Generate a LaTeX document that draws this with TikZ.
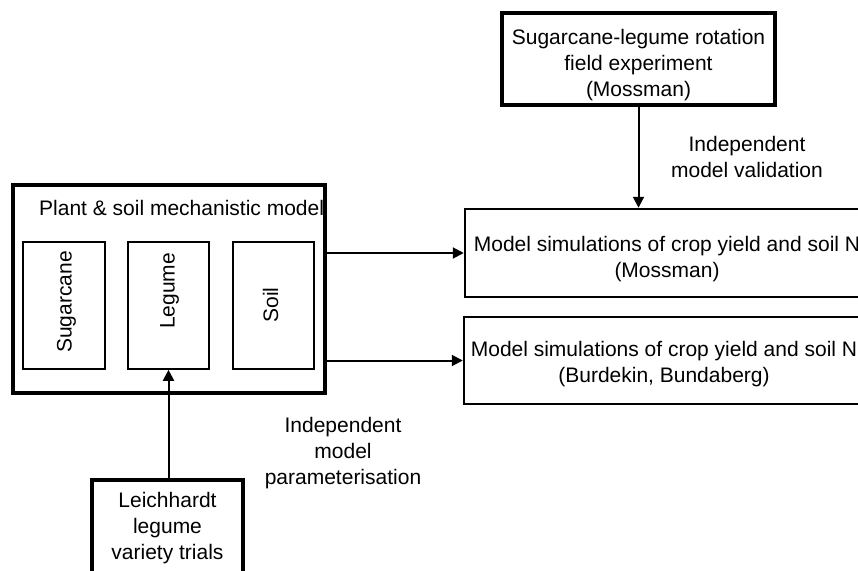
\documentclass[tikz,border=0pt]{standalone}
\usepackage{fontspec}
\setmainfont{Liberation Sans}
\usetikzlibrary{arrows.meta}
\tikzset{
  txt/.style={inner sep=0pt, align=center, font={\fontsize{21}{26}\selectfont}},
  thickbox/.style={draw, line width=3.5pt, rectangle, inner sep=0pt},
  midbox/.style={draw, line width=2.5pt, rectangle, inner sep=0pt},
  thinbox/.style={draw, line width=1.6pt, rectangle, inner sep=0pt},
  conn/.style={line width=2pt, -{Triangle[length=11pt,width=11pt]}},
}
\begin{document}
\begin{tikzpicture}[x=1pt,y=-1pt]
\useasboundingbox[fill=white] (0,0) rectangle (858,570);
% title of model box (drawn first so the border covers its end)
\node[txt, anchor=base west] (title) at (39,215) {Plant \& soil mechanistic model};
\node[thickbox, minimum width=312pt, minimum height=208pt] (main) at (169,289) {};
% inner boxes
\node[thinbox, minimum width=82pt, minimum height=127pt] (sug) at (64,305.5) {};
\node[thinbox, minimum width=81pt, minimum height=127pt] (leg) at (168.5,305.5) {};
\node[thinbox, minimum width=81pt, minimum height=127pt] (soil) at (273.5,305.5) {};
\node[txt, rotate=90] (sugt) at (66.5,302) {Sugarcane};
\node[txt, rotate=90] (legt) at (169.5,291) {Legume};
\node[txt, rotate=90] (soilt) at (270.5,305) {Soil};
% top box
\node[thickbox, minimum width=273pt, minimum height=92pt] (top) at (638.5,59) {};
\node[txt] (topt) at (638.5,65.5) {Sugarcane-legume rotation\\field experiment\\(Mossman)};
% simulation boxes
\node[midbox, minimum width=402pt, minimum height=88pt] (moss) at (666,253) {};
\node[txt] (mosst) at (667,259) {Model simulations of crop yield and soil N\\(Mossman)};
\node[midbox, minimum width=402pt, minimum height=87pt] (burd) at (665,360.5) {};
\node[txt] (burdt) at (664,364) {Model simulations of crop yield and soil N\\(Burdekin, Bundaberg)};
% Leichhardt box
\node[thickbox, minimum width=151pt, minimum height=140pt] (lei) at (167.5,550) {};
\node[txt] (leit) at (167.5,528.5) {Leichhardt\\legume\\variety trials};
% labels
\node[txt] (lval) at (747,157) {Independent\\model validation};
\node[txt] (lpar) at (343,453.5) {Independent\\model\\parameterisation};
% connectors
\draw[conn] (top.south) -- (top.south |- moss.north);
\draw[conn] (main.east |- moss.west) -- (moss.west);
\draw[conn] (main.east |- burd.west) -- (burd.west);
\draw[conn] (lei.north -| leg.south) -- (leg.south);
\end{tikzpicture}
\end{document}
